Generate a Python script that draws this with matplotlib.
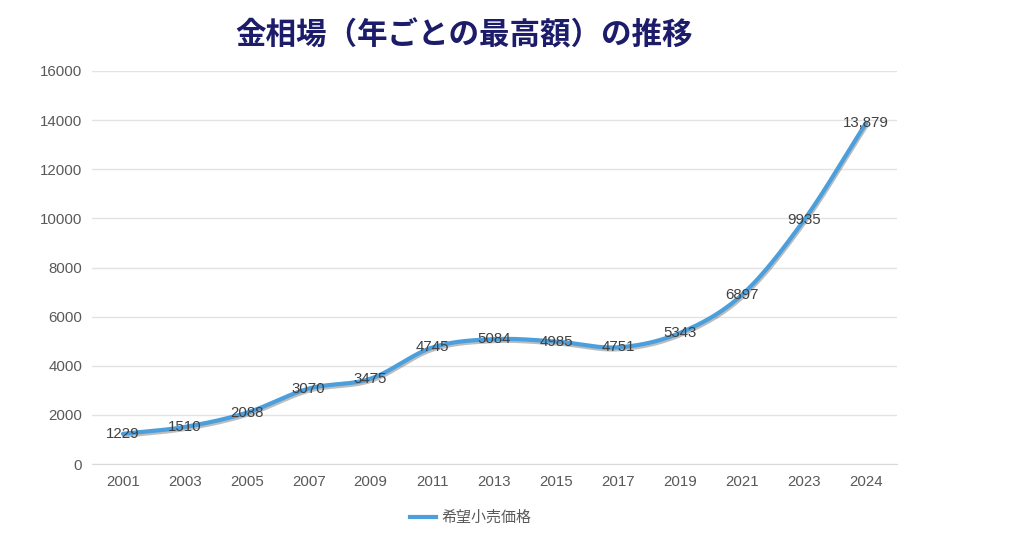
import numpy as np
import matplotlib
matplotlib.use("Agg")
import matplotlib.pyplot as plt
import matplotlib.patheffects as pe
from matplotlib.lines import Line2D

years = ["2001", "2003", "2005", "2007", "2009", "2011", "2013", "2015", "2017", "2019", "2021", "2023", "2024"]
prices = [1229, 1510, 2088, 3070, 3475, 4745, 5084, 4985, 4751, 5343, 6897, 9935, 13879]
labels = ["1229", "1510", "2088", "3070", "3475", "4745", "5084", "4985", "4751", "5343", "6897", "9935", "13,879"]
yticks = [0, 2000, 4000, 6000, 8000, 10000, 12000, 14000, 16000]

title = "金相場（年ごとの最高額）の推移"
series_name = "希望小売価格"

JP = ["Noto Sans CJK JP", "DejaVu Sans"]
LAT = ["Liberation Sans", "DejaVu Sans"]


def catmull_rom(x, y, n=30):
    x = np.asarray(x, float)
    y = np.asarray(y, float)
    px = np.concatenate([[2 * x[0] - x[1]], x, [2 * x[-1] - x[-2]]])
    py = np.concatenate([[2 * y[0] - y[1]], y, [2 * y[-1] - y[-2]]])
    xs, ys = [], []
    for i in range(1, len(px) - 2):
        t = np.linspace(0, 1, n, endpoint=False)
        for arr, out in ((px, xs), (py, ys)):
            p0, p1, p2, p3 = arr[i - 1], arr[i], arr[i + 1], arr[i + 2]
            m1 = (p2 - p0) / 2
            m2 = (p3 - p1) / 2
            h00 = 2 * t**3 - 3 * t**2 + 1
            h10 = t**3 - 2 * t**2 + t
            h01 = -2 * t**3 + 3 * t**2
            h11 = t**3 - t**2
            out.extend(h00 * p1 + h10 * m1 + h01 * p2 + h11 * m2)
    xs.append(x[-1])
    ys.append(y[-1])
    return np.array(xs), np.array(ys)


fig = plt.figure(figsize=(10.24, 5.5), dpi=100)
ax = fig.add_axes([92 / 1024, 1 - 464 / 550, (897 - 92) / 1024, (464 - 71) / 550])

xpos = np.arange(len(years))
sx, sy = catmull_rom(xpos, prices)
ax.plot(sx, sy, color="#4a9fdc", lw=3.0, solid_capstyle="round", zorder=3,
        path_effects=[pe.SimpleLineShadow(offset=(0.6, -1.4), shadow_color="#444444", alpha=0.35),
                      pe.Normal()])

for xi, v, lab in zip(xpos, prices, labels):
    ax.text(xi, v, lab, ha="center", va="center", fontsize=10.8, color="#404040",
            family=LAT, zorder=4)

ax.set_xlim(-0.5, len(years) - 0.5)
ax.set_ylim(0, 16000)
ax.set_yticks(yticks)
ax.set_yticklabels([str(t) for t in yticks], family=LAT, fontsize=10.8, color="#595959")
ax.set_xticks(xpos)
ax.set_xticklabels(years, family=LAT, fontsize=10.8, color="#595959")
ax.tick_params(axis="y", length=0, pad=7)
ax.tick_params(axis="x", length=0, pad=8)
ax.grid(axis="y", color="#e3e3e3", lw=1)
ax.set_axisbelow(True)
for s in ["top", "right", "left"]:
    ax.spines[s].set_visible(False)
ax.spines["bottom"].set_color("#d9d9d9")

fig.text(464 / 1024, 1 - 35 / 550, title, ha="center", va="center", fontsize=22,
         fontweight="bold", color="#1c1c6b", family=JP)

handle = Line2D([0], [0], color="#4a9fdc", lw=3)
fig.legend([handle], [series_name], loc="center", bbox_to_anchor=(471 / 1024, 1 - 518 / 550),
           frameon=False, prop={"family": JP, "size": 10.8}, labelcolor="#595959",
           handlelength=1.7, handletextpad=0.4)

fig.savefig("out.png", dpi=100, facecolor="white")
